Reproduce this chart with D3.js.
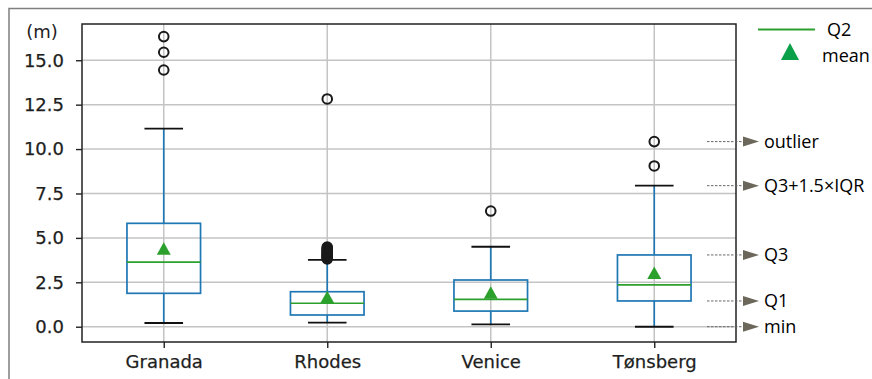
<!DOCTYPE html>
<html>
<head>
<meta charset="utf-8">
<script src="https://cdn.jsdelivr.net/npm/d3@7"></script>
<style>
  body { margin: 0; background: #fff; }
  .tick text { font-family: "DejaVu Sans", sans-serif; font-size: 18px; fill: #1e1e1e; stroke: #1e1e1e; stroke-width: 0.25px; }
</style>
</head>
<body>
<div id="chart"></div>
<script>
const categories  = ["Granada", "Rhodes", "Venice", "Tønsberg"];
const whiskerLow  = [0.21, 0.23, 0.13, 0.0];
const q1          = [1.88, 0.66, 0.88, 1.45];
const q2          = [3.64, 1.32, 1.54, 2.35];
const q3          = [5.82, 1.97, 2.63, 4.04];
const whiskerHigh = [11.15, 3.76, 4.50, 7.94];
const means       = [4.36, 1.63, 1.88, 3.00];
const outliers    = [
    [14.45, 15.45, 16.33],
    [12.82, 3.82, 3.86, 3.9, 3.95, 4.0, 4.05, 4.1, 4.15, 4.2, 4.25, 4.3, 4.36, 4.42, 4.48],
    [6.51],
    [9.05, 10.42]
];
const yTicks = [0, 2.5, 5, 7.5, 10, 12.5, 15];
const yUnit = "(m)";

// annotation labels point at the Tønsberg box
const annoLabels = ["outlier", "Q3+1.5×IQR", "Q3", "Q1", "min"];
const annoValues = [outliers[3][1], whiskerHigh[3], q3[3], q1[3], whiskerLow[3]];

const W = 872, H = 379;
const pLeft = 82, pRight = 736, pTop = 24, pBottom = 342;

const svg = d3.select("#chart")
    .append("svg")
    .attr("width", W)
    .attr("height", H);

// outer frame of the screenshot
svg.append("rect")
    .attr("x", 9).attr("y", 8.5)
    .attr("width", 1000).attr("height", 1000)
    .attr("fill", "none")
    .attr("stroke", "#7f7f7f")
    .attr("stroke-width", 1.5);

const y = d3.scaleLinear().domain([-0.86, 17.04]).range([pBottom, pTop]);
const x = d3.scalePoint().domain(categories).range([pLeft, pRight]).padding(0.5);
const half = x.step() * 0.225;
const capHalf = x.step() * 0.118;

// grid
svg.append("g")
    .selectAll("line")
    .data(yTicks)
    .enter().append("line")
    .attr("x1", pLeft).attr("x2", pRight)
    .attr("y1", d => y(d)).attr("y2", d => y(d))
    .attr("stroke", "#c4c4c4").attr("stroke-width", 1.5);
svg.append("g")
    .selectAll("line")
    .data(categories)
    .enter().append("line")
    .attr("x1", d => x(d)).attr("x2", d => x(d))
    .attr("y1", pTop).attr("y2", pBottom)
    .attr("stroke", "#c4c4c4").attr("stroke-width", 1.5);

// axes
const yAxis = svg.append("g")
    .attr("transform", `translate(${pLeft},0)`)
    .call(d3.axisLeft(y).tickValues(yTicks).tickFormat(d3.format(".1f")).tickSize(6).tickPadding(12));
const xAxis = svg.append("g")
    .attr("transform", `translate(0,${pBottom})`)
    .call(d3.axisBottom(x).tickSize(6).tickPadding(7));
[yAxis, xAxis].forEach(a => {
    a.select(".domain").remove();
    a.selectAll(".tick line").attr("stroke", "#222").attr("stroke-width", 1.4);
});

svg.append("rect")
    .attr("x", pLeft).attr("y", pTop)
    .attr("width", pRight - pLeft).attr("height", pBottom - pTop)
    .attr("fill", "none").attr("stroke", "#222").attr("stroke-width", 1.5);

svg.append("text")
    .attr("x", 42).attr("y", 38)
    .attr("text-anchor", "middle")
    .style("font-family", "DejaVu Sans, sans-serif")
    .style("font-size", "18px")
    .attr("fill", "#1e1e1e")
    .text(yUnit);

// boxes
const g = svg.append("g");
categories.forEach((c, i) => {
    const cx = x(c);
    // whiskers
    g.append("line").attr("x1", cx).attr("x2", cx).attr("y1", y(q3[i])).attr("y2", y(whiskerHigh[i]))
        .attr("stroke", "#1f77b4").attr("stroke-width", 1.7);
    g.append("line").attr("x1", cx).attr("x2", cx).attr("y1", y(q1[i])).attr("y2", y(whiskerLow[i]))
        .attr("stroke", "#1f77b4").attr("stroke-width", 1.7);
    // caps
    [whiskerLow[i], whiskerHigh[i]].forEach(v => {
        g.append("line").attr("x1", cx - capHalf).attr("x2", cx + capHalf)
            .attr("y1", y(v)).attr("y2", y(v))
            .attr("stroke", "#111").attr("stroke-width", 1.9);
    });
    // box
    g.append("rect")
        .attr("x", cx - half).attr("y", y(q3[i]))
        .attr("width", 2 * half).attr("height", y(q1[i]) - y(q3[i]))
        .attr("fill", "none").attr("stroke", "#1f77b4").attr("stroke-width", 1.7);
    // median
    g.append("line").attr("x1", cx - half).attr("x2", cx + half)
        .attr("y1", y(q2[i])).attr("y2", y(q2[i]))
        .attr("stroke", "#2ca02c").attr("stroke-width", 1.7);
    // mean
    const my = y(means[i]);
    g.append("path")
        .attr("d", `M${cx},${my - 7}L${cx + 7},${my + 5.5}L${cx - 7},${my + 5.5}Z`)
        .attr("fill", "#2ca02c");
    // fliers
    g.selectAll(null)
        .data(outliers[i])
        .enter().append("circle")
        .attr("cx", cx).attr("cy", d => y(d)).attr("r", 4.8)
        .attr("fill", "none").attr("stroke", "#1a1a1a").attr("stroke-width", 2);
});

// legend
svg.append("line").attr("x1", 758).attr("x2", 815).attr("y1", 29.5).attr("y2", 29.5)
    .attr("stroke", "#2ca02c").attr("stroke-width", 2);
svg.append("path").attr("d", "M790,43L799,60L781,60Z").attr("fill", "#0aa04a");
const legText = svg.append("g")
    .style("font-family", "Open Sans, sans-serif").style("font-size", "18px").attr("fill", "#000");
legText.append("text").attr("x", 827).attr("y", 36).text("Q2");
legText.append("text").attr("x", 822).attr("y", 62).text("mean");

// annotations
const anno = svg.append("g");
annoLabels.forEach((t, i) => {
    const ay = y(annoValues[i]);
    anno.append("line").attr("x1", 707).attr("x2", 744).attr("y1", ay).attr("y2", ay)
        .attr("stroke", "#666").attr("stroke-width", 1).attr("stroke-dasharray", "2.5,1.5");
    anno.append("path").attr("d", `M743,${ay - 5}L759,${ay}L743,${ay + 5}Z`).attr("fill", "#6b675a");
    anno.append("text").attr("x", 764).attr("y", ay + 6.5)
        .style("font-family", "Open Sans, sans-serif").style("font-size", "18px").attr("fill", "#000")
        .text(t);
});
</script>
</body>
</html>
